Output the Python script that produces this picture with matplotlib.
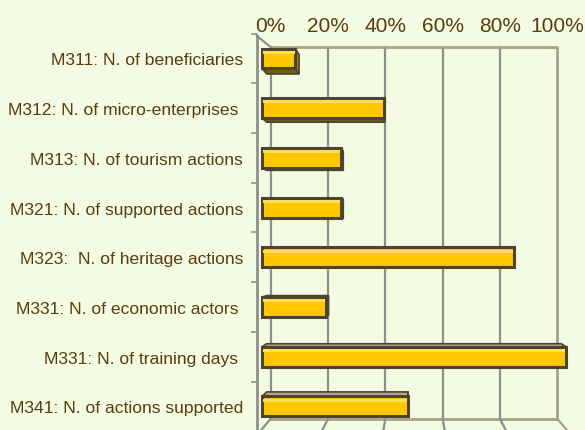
import matplotlib
matplotlib.use('Agg')
import matplotlib.pyplot as plt
from matplotlib.patches import Polygon

labels = ['M311: N. of beneficiaries',
          'M312: N. of micro-enterprises ',
          'M313: N. of tourism actions',
          'M321: N. of supported actions',
          'M323:  N. of heritage actions',
          'M331: N. of economic actors ',
          'M331: N. of training days ',
          'M341: N. of actions supported']
values = [11, 40, 26, 26, 83, 21, 100, 48]
ticks = [0, 20, 40, 60, 80, 100]

bg = '#F3FBE3'
txt = '#5A3C12'
grid = '#8E8E8E'
wall = '#A7A386'
edge = '#4D4430'

plt.rcParams['font.family'] = ['Liberation Sans', 'DejaVu Sans']

fig = plt.figure(figsize=(5.85, 4.31), dpi=100, facecolor=bg)
ax = fig.add_axes([255 / 585, 0, 330 / 585, 1])
ax.set_facecolor(bg)
ax.set_xlim(-2.30, 106.25)
ax.set_ylim(7.475, -1.197)
for s in ax.spines.values():
    s.set_visible(False)


# perspective: where a front point goes on the back wall
def xb(x):
    return 2.8 + 0.944 * x


def yb(y):
    return 0.215 + 0.944 * y


top_back = -0.231
bot_back = 7.254

# back wall gridlines and frame
for v in ticks[:-1]:
    ax.plot([xb(v), xb(v)], [top_back, bot_back], color=grid, lw=1.6, zorder=1)
ax.plot([xb(0), xb(100), xb(100)], [top_back, top_back, bot_back],
        color=wall, lw=2, zorder=1)
ax.plot([xb(0), xb(100)], [bot_back, bot_back], color=wall, lw=2, zorder=1)

# floor lines
i_front = (bot_back - 0.215) / 0.944
for v in ticks:
    x1 = xb(v) + 2 * (v - xb(v))
    y1 = bot_back + 2 * (i_front - bot_back)
    ax.plot([xb(v), x1], [bot_back, y1], color=wall if v == 100 else grid, lw=1.6, zorder=1)

# left wall
ax.plot([-1.64, -1.64], [-0.453, 7.6], color=grid, lw=2, zorder=1, clip_on=False)
ax.plot([-1.64, xb(0)], [-0.453, top_back], color=grid, lw=1.6, zorder=1)
for k in range(-1, 8):
    ax.plot([-3.3, -1.64], [k + 0.5, k + 0.5], color=grid, lw=1.2, clip_on=False)

# bars with some depth
h = 0.40
d = 0.55


def back(x, y):
    return (x + d * (xb(x) - x), y + d * (yb(y) - y))


for i, v in enumerate(values):
    y0, y1 = i - h / 2, i + h / 2
    if i < 3.84:
        face = [(0, y1), (v, y1), back(v, y1), back(0, y1)]
        ax.add_patch(Polygon(face, closed=True, fc='#765A14', ec=edge, lw=1.2, zorder=2))
    else:
        face = [(0, y0), (v, y0), back(v, y0), back(0, y0)]
        ax.add_patch(Polygon(face, closed=True, fc='#B3AD86', ec=edge, lw=1.2, zorder=2))
    if v < 50:
        side = [(v, y0), (v, y1), back(v, y1), back(v, y0)]
        ax.add_patch(Polygon(side, closed=True, fc='#A07E0C', ec=edge, lw=1.2, zorder=2))

ax.barh(range(len(values)), values, height=h, color='#FFC700', edgecolor=edge,
        linewidth=2.2, zorder=3)
ax.barh([i - h / 2 + 0.075 for i in range(len(values))], [v - 0.6 for v in values],
        left=0.3, height=0.06, color='#FFE052', linewidth=0, zorder=4)

ax.set_xticks([])
ax.set_yticks(range(len(labels)))
ax.set_yticklabels(labels, fontsize=12.6, color=txt)
ax.tick_params(axis='y', length=0, pad=8.6)

for v in ticks:
    ax.text(xb(v), -0.67, f'{v}%', ha='center', va='center', fontsize=15,
            color=txt, clip_on=False)

fig.savefig('out.png', dpi=100, facecolor=bg)
